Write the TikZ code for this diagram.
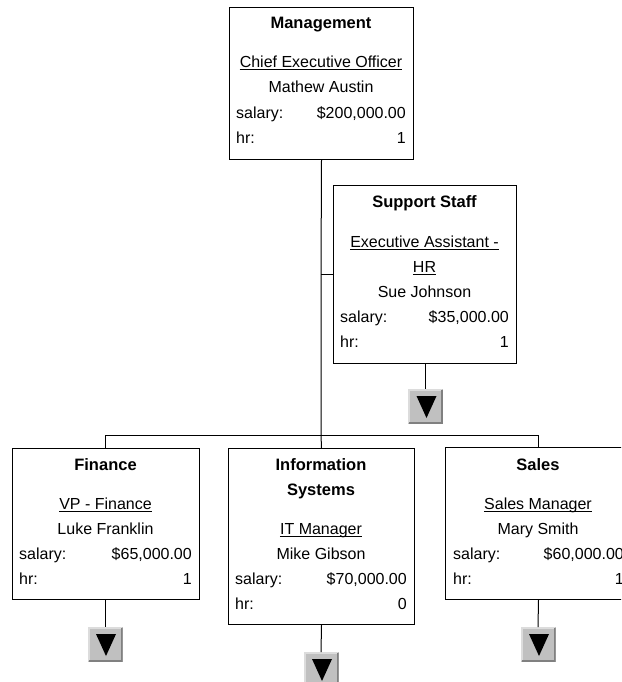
\documentclass[tikz,border=0pt]{standalone}
\usepackage{fontspec}
\setmainfont{Liberation Sans}
\definecolor{btngray}{HTML}{C0C0C0}
\definecolor{btndark}{HTML}{808080}
\definecolor{btnlight}{HTML}{DCDCDC}
\begin{document}
\begin{tikzpicture}[x=1pt,y=-1pt,
  box/.style={draw=black,line width=1pt,fill=white,inner sep=0pt,anchor=north west},
  ttl/.style={font=\fontsize{16.5}{18}\selectfont\bfseries,inner sep=0pt,anchor=base},
  txt/.style={font=\fontsize{16}{18}\selectfont,inner sep=0pt,anchor=base},
  lft/.style={txt,anchor=base west},
  rgt/.style={txt,anchor=base east},
  uline/.style={line width=1pt},
  conn/.style={line width=1pt,draw=black},
  button/.style={minimum width=35pt,minimum height=35pt,inner sep=0pt,outer sep=0pt,
    fill=btngray,anchor=north,
    path picture={
      \draw[btnlight,line width=2pt] ([xshift=1pt,yshift=1pt]path picture bounding box.south west)
         |- ([xshift=-1pt,yshift=-1pt]path picture bounding box.north east);
      \draw[btndark,line width=2pt] ([xshift=1pt,yshift=1pt]path picture bounding box.south west)
         -| ([xshift=-1pt,yshift=-1pt]path picture bounding box.north east);
      \fill[black] ([xshift=-9pt,yshift=-7pt]path picture bounding box.north)
         -- ([xshift=11pt,yshift=-7pt]path picture bounding box.north)
         -- ([xshift=1pt,yshift=-29pt]path picture bounding box.north) -- cycle;
    }}
]
\useasboundingbox (0,0) rectangle (621,682);
\clip (0,0) rectangle (621,682);

\coordinate (jt) at (321,274);
\coordinate (jb) at (321,435);

% ---------- Management ----------
\node[box,minimum width=184pt,minimum height=152pt] (mgmt) at (229,7) {};
\node[ttl] (mgmtT) at (321,29) {Management};
\node[txt] (mgmtP) at (321,68) {Chief Executive Officer};
\draw[uline] ([yshift=-2pt]mgmtP.base west) -- ([yshift=-2pt]mgmtP.base east);
\node[txt] (mgmtN) at (321,93) {Mathew Austin};
\node[lft] (mgmtSl) at (236,118) {salary:};
\node[rgt] (mgmtSv) at (406,118) {\$200,000.00};
\node[lft] (mgmtHl) at (236,143) {hr:};
\node[rgt] (mgmtHv) at (406,143) {1};

% ---------- Support Staff ----------
\node[box,minimum width=183pt,minimum height=178pt] (supp) at (333,185) {};
\node[ttl] (suppT) at (424.5,207.5) {Support Staff};
\node[txt] (suppP1) at (424.5,247) {Executive Assistant -};
\draw[uline] ([yshift=-2pt]suppP1.base west) -- ([yshift=-2pt]suppP1.base east);
\node[txt] (suppP2) at (424.5,272) {HR};
\draw[uline] ([yshift=-2pt]suppP2.base west) -- ([yshift=-2pt]suppP2.base east);
\node[txt] (suppN) at (424.5,297) {Sue Johnson};
\node[lft] (suppSl) at (340,322) {salary:};
\node[rgt] (suppSv) at (509,322) {\$35,000.00};
\node[lft] (suppHl) at (340,347) {hr:};
\node[rgt] (suppHv) at (509,347) {1};
\node[button] (suppB) at (425.5,389) {};

% ---------- Finance ----------
\node[box,minimum width=187pt,minimum height=151pt] (fin) at (12,448) {};
\node[ttl] (finT) at (105.5,470.5) {Finance};
\node[txt] (finP) at (105.5,509.5) {VP - Finance};
\draw[uline] ([yshift=-2pt]finP.base west) -- ([yshift=-2pt]finP.base east);
\node[txt] (finN) at (105.5,534.5) {Luke Franklin};
\node[lft] (finSl) at (19,559.5) {salary:};
\node[rgt] (finSv) at (192,559.5) {\$65,000.00};
\node[lft] (finHl) at (19,584.5) {hr:};
\node[rgt] (finHv) at (192,584.5) {1};
\node[button] (finB) at (105,627) {};

% ---------- Information Systems ----------
\node[box,minimum width=186pt,minimum height=176pt] (is) at (228,448) {};
\node[ttl] (isT1) at (321,470.5) {Information};
\node[ttl] (isT2) at (321,495.5) {Systems};
\node[txt] (isP) at (321,534.5) {IT Manager};
\draw[uline] ([yshift=-2pt]isP.base west) -- ([yshift=-2pt]isP.base east);
\node[txt] (isN) at (321,559.5) {Mike Gibson};
\node[lft] (isSl) at (235,584.5) {salary:};
\node[rgt] (isSv) at (407,584.5) {\$70,000.00};
\node[lft] (isHl) at (235,609.5) {hr:};
\node[rgt] (isHv) at (407,609.5) {0};
\node[button] (isB) at (321,652) {};

% ---------- Sales ----------
\node[box,minimum width=186pt,minimum height=152pt] (sal) at (445,447) {};
\node[ttl] (salT) at (538,470.5) {Sales};
\node[txt] (salP) at (538,509.5) {Sales Manager};
\draw[uline] ([yshift=-2pt]salP.base west) -- ([yshift=-2pt]salP.base east);
\node[txt] (salN) at (538,534.5) {Mary Smith};
\node[lft] (salSl) at (453,559.5) {salary:};
\node[rgt] (salSv) at (624,559.5) {\$60,000.00};
\node[lft] (salHl) at (453,584.5) {hr:};
\node[rgt] (salHv) at (624,584.5) {1};
\node[button] (salB) at (538,627) {};

% ---------- connectors ----------
\draw[conn] (mgmt.south) -- (jt) -- (jb);
\draw[conn] (jt) -- (supp.west |- jt);
\draw[conn] (jb) -| (fin.north -| finB.north);
\draw[conn] (jb) -| (sal.north);
\draw[conn] (jb) -- (is.north);
\draw[conn] (supp.south -| suppB.north) -- (suppB.north);
\draw[conn] (fin.south -| finB.north) -- (finB.north);
\draw[conn] (is.south) -- (isB.north);
\draw[conn] (sal.south) -- (salB.north);
\end{tikzpicture}
\end{document}
